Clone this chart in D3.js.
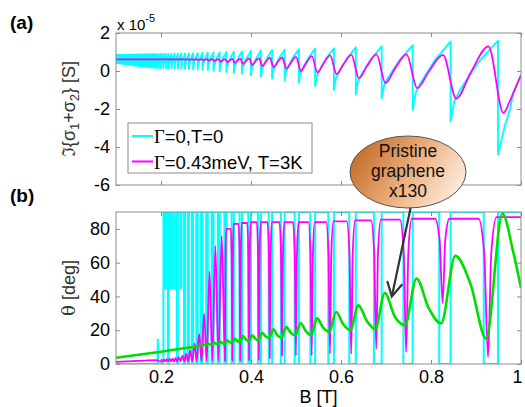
<!DOCTYPE html>
<html><head><meta charset="utf-8">
<script src="https://cdn.jsdelivr.net/npm/d3@7"></script>
<style>body{margin:0;background:#fff}svg{display:block}</style>
</head><body>
<script>
// ---------------- DATA ----------------
// B [T] positions of the Landau-level crossings (jumps), from high B to low B
const jumpB = [
0.9488,0.8435,0.7593,0.6904,0.6329,0.5843,0.5426,0.5065,0.4748,0.4469,
0.4221,0.3999,0.3799,0.3619,0.3454,0.3304,0.3167,0.3040,0.2923,0.2815,
0.2714,0.2621,0.2534,0.2452,0.2375,0.2303,0.2236,0.2172,0.2111,0.2054,
0.2000,0.1949,0.1900,0.1854,0.1810,0.1768,0.1728,0.1689,0.1653,0.1617,
0.1584,0.1551,0.1520,0.1491,0.1462,0.1434,0.1408,0.1382,0.1358,0.1334,
0.1311,0.1289,0.1267,0.1246,0.1226,0.1207,0.1188,0.1170,0.1152,0.1135,
0.1118,0.1102,0.1086,0.1071,0.1056,0.1042,0.1027,0.1014,0.1000];
// (a) Gamma=0,T=0 : value just before each jump / just after (x1e-5 S)
const cyanHi = [
1.60,1.55,1.35,1.30,1.25,1.20,1.18,1.15,1.12,1.10,
1.08,1.05,1.03,1.01,1.00,0.98,0.97,0.96,0.95,0.94,
0.93,0.93,0.92,0.92,0.91,0.91,0.90,0.90,0.90,0.90,
0.90,0.89,0.89,0.89,0.89,0.88,0.88,0.88,0.88,0.88,
0.87,0.87,0.87,0.87,0.87,0.86,0.86,0.86,0.86,0.86,
0.86,0.85,0.85,0.85,0.85,0.85,0.85,0.85,0.85,0.84,
0.84,0.84,0.84,0.84,0.84,0.84,0.84,0.84,0.84];
const cyanLo = [
-4.40,-2.65,-2.05,-1.45,-1.22,-1.00,-0.80,-0.62,-0.50,-0.40,
-0.30,-0.22,-0.15,-0.10,-0.05,-0.02,0.01,0.04,0.06,0.08,
0.09,0.10,0.11,0.12,0.13,0.14,0.14,0.15,0.15,0.16,
0.16,0.17,0.17,0.18,0.19,0.20,0.20,0.21,0.22,0.23,
0.24,0.25,0.26,0.27,0.28,0.29,0.30,0.31,0.31,0.32,
0.33,0.34,0.34,0.35,0.36,0.36,0.37,0.38,0.38,0.39,
0.39,0.40,0.40,0.41,0.41,0.42,0.42,0.42,0.42];
const cyanTailB = [0.964,0.976,0.982,1.0];
const cyanTailV = [-2.9,-2.0,-1.2,-0.25];
// (a) Gamma=0.43meV, T=3K : peak before jump k / trough after jump k
const magHi = [1.30,0.85,0.88,0.87,0.85,0.82,0.78,0.74,0.72,0.70,0.68,0.66,0.65,0.64,0.63,0.63,0.62,0.62,0.62,0.62,0.61,0.61,0.61,0.61,0.61];
const magLo = [-2.20,-1.45,-0.90,-0.63,-0.38,-0.16,-0.08,0.00,0.12,0.20,0.26,0.32,0.38,0.43,0.47,0.50,0.53,0.55,0.57,0.58,0.59,0.60,0.60,0.61,0.61];
const magFlat = 0.61;
const magTailB = [0.975,0.99,1.0];
const magTailV = [-1.6,-0.75,-0.2];
// (b) theta [deg], Gamma=0: level reached inside each window before jump k (k=0..29)
const cyanThetaDepth = [0,0,0,0,0,0,0,0,0,0,0,0,0,0,0,0,0,0,0,0,0,0, 0,45,0,45,45,0,45,0];
const cyanDropFrac = 0.3;
const cyanSpikeB = 0.193, cyanSpikeTheta = 15;
// (b) Gamma=0.43meV: plateau after jump k, minimum of dip before jump k
const magPlat = [87,86,86,85.5,85,84.5,84,84,84,84,84,84,83.5,83,80,76,70,55,30,18,12,8,6,5,4,3.5,3.2,3,2.8,2.6,2.5,2.4];
const magMin = [4,36,7,9,6,6,5,5,5,3.5,2.5,2.2,2,2,1.8,1.8,1.7,1.7,1.6,1.6,1.6,1.6,1.6,1.6,1.6,1.6,1.6,1.6,1.6,1.6,1.6];
const magDipFrac = 0.21;
const magThetaTailB = [0.1,0.15,0.19];
const magThetaTailV = [1.3,1.8,2.3];
// (b) pristine graphene x130
const greenBaseB = [0.1,0.15,0.2,0.25];
const greenBaseV = [3.7,5.5,7.3,9.3];
const greenPeak = [89,64,50.6,42,34.7,30.8,27,24.3,22,20.6,18.4,17,16.5,15,14,13.2,12.6,12,11.4];
const greenDip  = [15,24,23,20.6,20,19,17,17,15.5,15.3,14,13.5,13,12.5,12,11.8,11.5,11.2,10.9];
const greenMid  = [null,47,33,28,25.5,23.5,21.5,19.5,18.5,17,16.3,15,14.6,13.6,12.9,12.4,12,11.6,11.3];
const greenTailB = [0.983,1.0];
const greenTailV = [66,45];
// ticks / labels
const xTicks = [0.2,0.4,0.6,0.8,1];
const yTicksA = [-6,-4,-2,0,2];
const yTicksB = [0,20,40,60,80];
const legendLabels = [["Γ","=0,T=0"],["Γ","=0.43meV, T=3K"]];
const calloutLines = ["Pristine","graphene","x130"];

// ---------------- DRAW ----------------
const FONT = "'Liberation Sans', Arial, sans-serif";
const CYAN = "#00ffff", MAG = "#ff00ff", GREEN = "#00dd00", FRAME = "#8c8c8c";
const svg = d3.select("body").append("svg").attr("width",525).attr("height",407)
  .style("font-family",FONT);
const x = d3.scaleLinear().domain([0.1,1]).range([116,521]);
const yA = d3.scaleLinear().domain([-6,2]).range([185,33]);
const yB = d3.scaleLinear().domain([0,90]).range([364,212]);

const defs = svg.append("defs");
[["clipA",yA],["clipB",yB]].forEach(([id,ys])=>{
  defs.append("clipPath").attr("id",id).append("rect")
    .attr("x",x.range()[0]).attr("y",ys.range()[1])
    .attr("width",x.range()[1]-x.range()[0]).attr("height",ys.range()[0]-ys.range()[1]);
});
const grad = defs.append("linearGradient").attr("id","ell")
  .attr("x1","0").attr("y1","0.3").attr("x2","1").attr("y2","0.7");
grad.append("stop").attr("offset","0").attr("stop-color","#c46a28");
grad.append("stop").attr("offset","0.55").attr("stop-color","#efb486");
grad.append("stop").attr("offset","1").attr("stop-color","#fff0e4");

const per = k => k>=1 ? jumpB[k-1]-jumpB[k] : 0.1;
const N = jumpB.length;

// --- panel (a) data paths
const shapeT=[0,0.08,0.2,0.6,1], shapeW=[0,0.25,0.39,0.74,1];
const cyanA = [[jumpB[N-1], cyanLo[N-1]]];
for (let k=N-1;k>=1;k--){
  const b0=jumpB[k], P=per(k), lo=cyanLo[k], hi=cyanHi[k-1];
  for (let i=1;i<shapeT.length;i++) cyanA.push([b0+shapeT[i]*P, lo+shapeW[i]*(hi-lo)]);
  cyanA.push([jumpB[k-1], cyanLo[k-1]]);
}
cyanTailB.forEach((b,i)=>cyanA.push([b,cyanTailV[i]]));

const magA = [[0.1, magFlat]];
for (let k=magHi.length-1;k>=1;k--){
  const P=per(k), tB=jumpB[k]+0.12*P, pB=jumpB[k-1]-0.2*P;
  magA.push([tB,magLo[k]]);
  magA.push([tB+0.45*(pB-tB), magLo[k]+0.5*(magHi[k-1]-magLo[k])]);
  magA.push([pB,magHi[k-1]]);
}
magA.push([jumpB[0]+0.12*per(0), magLo[0]]);
magTailB.forEach((b,i)=>magA.push([b,magTailV[i]]));

// --- panel (b) data paths
const K = cyanThetaDepth.length-1;
const cyanB = [[0.1,0],[cyanSpikeB-0.0006,0],[cyanSpikeB,cyanSpikeTheta],[cyanSpikeB+0.0006,0],
  [jumpB[K],0],[jumpB[K],90]];
for (let k=K-1;k>=0;k--){
  const drop = jumpB[k]-cyanDropFrac*(jumpB[k]-jumpB[k+1]);
  cyanB.push([drop,90],[drop,cyanThetaDepth[k]],[jumpB[k],cyanThetaDepth[k]],[jumpB[k],90]);
}
cyanB.push([1,90]);

const magBpts = magThetaTailB.map((b,i)=>[b,magThetaTailV[i]]);
for (let k=magMin.length-1;k>=0;k--){
  const P=jumpB[k]-jumpB[k+1], d=jumpB[k]-magDipFrac*P, mn=magMin[k], pL=magPlat[k+1], pR=magPlat[k];
  if (pL>=80) magBpts.push([d-0.2*P,pL],[d-0.08*P,mn+0.75*(pL-mn)]);
  magBpts.push([d,mn]);
  if (pR>=80) magBpts.push([d+0.07*P,mn+0.75*(pR-mn)],[d+0.18*P,pR]);
  else if (k>0){
    const nd = jumpB[k-1]-magDipFrac*(jumpB[k-1]-jumpB[k]);
    magBpts.push([(d+nd)/2,pR]);
  }
}
magBpts.push([1,magPlat[0]]);

const greenPts = greenBaseB.map((b,i)=>[b,greenBaseV[i]]);
for (let k=greenPeak.length-1;k>=0;k--){
  const dB = jumpB[k]-0.25*(jumpB[k]-jumpB[k+1]);
  const pB = jumpB[k]+0.1*per(k);
  greenPts.push([dB,greenDip[k]],[pB,greenPeak[k]]);
  if (k>=1){
    const nd = jumpB[k-1]-0.25*(jumpB[k-1]-jumpB[k]);
    greenPts.push([(pB+nd)/2, greenMid[k]]);
  }
}
greenTailB.forEach((b,i)=>greenPts.push([b,greenTailV[i]]));

const mk = (ys,curve)=>d3.line().x(d=>x(d[0])).y(d=>ys(d[1])).curve(curve);

// --- panel (a)
const gA = svg.append("g").attr("clip-path","url(#clipA)");
gA.append("path").attr("d",mk(yA,d3.curveLinear)(cyanA)).attr("fill","none")
  .attr("stroke",CYAN).attr("stroke-width",1.9).attr("stroke-linejoin","round");
gA.append("path").attr("d",mk(yA,d3.curveMonotoneX)(magA)).attr("fill","none")
  .attr("stroke",MAG).attr("stroke-width",1.8);

// --- panel (b)
const gB = svg.append("g").attr("clip-path","url(#clipB)");
gB.append("path").attr("d",mk(yB,d3.curveLinear)(cyanB)).attr("fill","none")
  .attr("stroke",CYAN).attr("stroke-width",2);
gB.append("path").attr("d",mk(yB,d3.curveMonotoneX)(magBpts)).attr("fill","none")
  .attr("stroke",MAG).attr("stroke-width",1.8);
gB.append("path").attr("d",mk(yB,d3.curveMonotoneX)(greenPts)).attr("fill","none")
  .attr("stroke",GREEN).attr("stroke-width",2.6);

// --- axes
function axes(ys, yt, showX){
  const [y0,y1] = ys.range();
  svg.append("rect").attr("x",x.range()[0]).attr("y",y1).attr("width",x.range()[1]-x.range()[0])
    .attr("height",y0-y1).attr("fill","none").attr("stroke",FRAME).attr("stroke-width",1);
  const fx = showX ? (d=>d===1?"1":d3.format(".1f")(d)) : (()=> "");
  const style = g=>{ g.select(".domain").remove(); g.selectAll("line").attr("stroke",FRAME);
    g.selectAll("text").attr("fill","#000").style("font-size","18px").style("font-family",FONT); };
  const gx = svg.append("g").attr("transform",`translate(0,${y0})`)
    .call(d3.axisBottom(x).tickValues(xTicks).tickSize(-4).tickPadding(6).tickFormat(fx)).call(style);
  gx.selectAll(".tick").filter(d=>d===1).select("text").attr("dx",-4);
  svg.append("g").attr("transform",`translate(0,${y1})`)
    .call(d3.axisTop(x).tickValues(xTicks).tickSize(-4).tickFormat("")).call(style);
  svg.append("g").attr("transform",`translate(${x.range()[0]},0)`)
    .call(d3.axisLeft(ys).tickValues(yt).tickSize(-4).tickPadding(6).tickFormat(d=>String(d))).call(style);
  svg.append("g").attr("transform",`translate(${x.range()[1]},0)`)
    .call(d3.axisRight(ys).tickValues(yt).tickSize(-4).tickFormat("")).call(style);
}
axes(yA, yTicksA, false);
axes(yB, yTicksB, true);

// exponent
const ex = svg.append("text").attr("x",117).attr("y",30).style("font-size","15px").attr("fill","#000");
ex.append("tspan").text("x 10");
ex.append("tspan").attr("dy",-8).style("font-size","11px").text("-5");

// panel letters
svg.append("text").attr("x",10).attr("y",29).style("font-size","19px").style("font-weight","bold").text("(a)");
svg.append("text").attr("x",10).attr("y",202).style("font-size","19px").style("font-weight","bold").text("(b)");

// y labels
const yl = svg.append("text").attr("transform",`translate(75,${(yA.range()[0]+yA.range()[1])/2}) rotate(-90)`)
  .attr("text-anchor","middle").style("font-size","18px").attr("fill","#333");
yl.append("tspan").style("font-family","'DejaVu Serif', serif").text("ℑ");
yl.append("tspan").text("{σ");
yl.append("tspan").attr("dy",4).style("font-size","13px").text("1");
yl.append("tspan").attr("dy",-4).text("+σ");
yl.append("tspan").attr("dy",4).style("font-size","13px").text("2");
yl.append("tspan").attr("dy",-4).text("} [S]");
const yl2 = svg.append("text").attr("transform",`translate(75,${(yB.range()[0]+yB.range()[1])/2}) rotate(-90)`)
  .attr("text-anchor","middle").style("font-size","18px").attr("fill","#333");
yl2.append("tspan").style("font-family","'DejaVu Serif', serif").text("θ");
yl2.append("tspan").text(" [deg]");
svg.append("text").attr("x",(x.range()[0]+x.range()[1])/2).attr("y",403).attr("text-anchor","middle")
  .style("font-size","18px").text("B [T]");

// legend
const lg = svg.append("g");
lg.append("rect").attr("x",128).attr("y",123).attr("width",184).attr("height",50)
  .attr("fill","#fff").attr("stroke",FRAME);
[CYAN,MAG].forEach((c,i)=>{
  const yy = 136+i*25.5;
  lg.append("line").attr("x1",132).attr("x2",153).attr("y1",yy).attr("y2",yy).attr("stroke",c).attr("stroke-width",2);
  const t = lg.append("text").attr("x",154).attr("y",yy+7).style("font-size","18.5px");
  t.append("tspan").style("font-family","'Liberation Serif', serif").text(legendLabels[i][0]);
  t.append("tspan").text(legendLabels[i][1]);
});

// callout
const tip = [x(0.713), yB(40)];
const st = [411,206];
svg.append("line").attr("x1",st[0]).attr("y1",st[1]).attr("x2",tip[0]).attr("y2",tip[1])
  .attr("stroke","#333").attr("stroke-width",2.2);
{
  const dx=st[0]-tip[0], dy=st[1]-tip[1], L=Math.hypot(dx,dy), ux=dx/L, uy=dy/L, a=0.5, len=16;
  const p1=[tip[0]+len*(ux*Math.cos(a)-uy*Math.sin(a)), tip[1]+len*(ux*Math.sin(a)+uy*Math.cos(a))];
  const p2=[tip[0]+len*(ux*Math.cos(-a)-uy*Math.sin(-a)), tip[1]+len*(ux*Math.sin(-a)+uy*Math.cos(-a))];
  svg.append("path").attr("d",`M${p1}L${tip}L${p2}`).attr("fill","none").attr("stroke","#333").attr("stroke-width",2.2);
}
svg.append("ellipse").attr("cx",408).attr("cy",172).attr("rx",58).attr("ry",36)
  .attr("fill","url(#ell)").attr("stroke","#555").attr("stroke-width",1);
calloutLines.forEach((s,i)=>svg.append("text").attr("x",408).attr("y",157+i*20).attr("text-anchor","middle")
  .style("font-size","17.5px").attr("fill","#111").text(s));
</script>
</body></html>
